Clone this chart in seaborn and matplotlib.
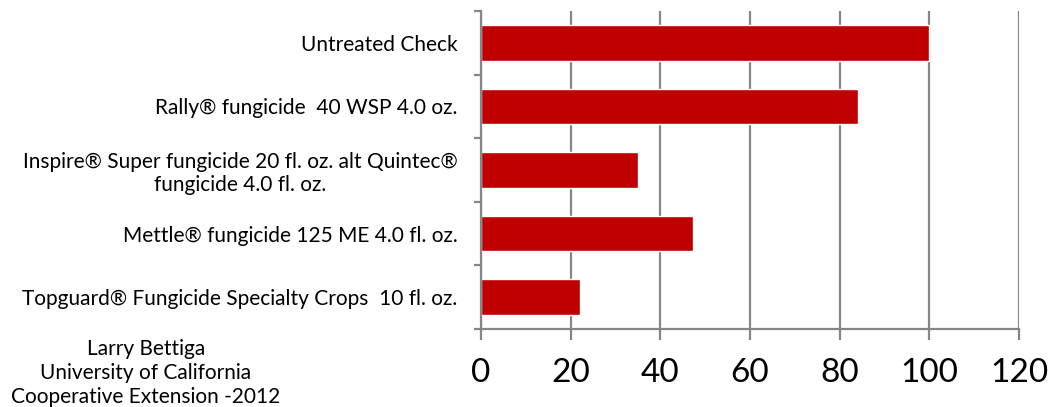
import matplotlib
matplotlib.use("Agg")
import matplotlib.pyplot as plt
import seaborn as sns
import pandas as pd

categories = [
    "Untreated Check",
    "Rally® fungicide  40 WSP 4.0 oz.",
    "Inspire® Super fungicide 20 fl. oz. alt Quintec®\nfungicide 4.0 fl. oz.",
    "Mettle® fungicide 125 ME 4.0 fl. oz.",
    "Topguard® Fungicide Specialty Crops  10 fl. oz.",
]
values = [100, 84, 35, 47.2, 22]
x_ticks = [0, 20, 40, 60, 80, 100, 120]
credit = "Larry Bettiga\nUniversity of California\nCooperative Extension -2012"

sns.set_theme(style="white")
plt.rcParams["font.family"] = ["Lato", "DejaVu Sans"]

df = pd.DataFrame({"treatment": categories, "value": values})

fig = plt.figure(figsize=(10.52, 4.07), dpi=100)
ax = fig.add_axes([481 / 1052, (407 - 329) / 407, (1019 - 481) / 1052, (329 - 11) / 407])

sns.barplot(data=df, x="value", y="treatment", color="#C00000", width=0.56,
            saturation=1, ax=ax, orient="h")

grey = "#868686"
ax.set_xlim(0, 120)
ax.set_ylim(4.5, -0.5)
ax.set_xticks(x_ticks)
ax.set_xticklabels([str(t) for t in x_ticks], fontsize=24, color="black")
ax.xaxis.grid(True, color=grey, linewidth=1.6)
ax.yaxis.grid(False)
ax.set_axisbelow(True)
ax.set_xlabel("")
ax.set_ylabel("")

# y: boundary tick marks (major) and category labels (minor)
ax.set_yticks([i - 0.5 for i in range(len(categories) + 1)])
ax.set_yticklabels([])
ax.set_yticks(list(range(len(categories))), minor=True)
ax.set_yticklabels(categories, minor=True, fontsize=15, color="black")
ax.tick_params(axis="y", which="major", length=5, width=1.6, color=grey, direction="out", left=True)
ax.tick_params(axis="y", which="minor", length=0, pad=17)
ax.tick_params(axis="x", length=8, width=1.6, color=grey, direction="out", bottom=True, pad=13)

for lab in ax.get_yticklabels(minor=True):
    lab.set_multialignment("center")
    lab.set_linespacing(1.2)

for s in ["top", "right"]:
    ax.spines[s].set_visible(False)
for s in ["left", "bottom"]:
    ax.spines[s].set_color(grey)
    ax.spines[s].set_linewidth(1.6)

fig.text(146 / 1052, (407 - 373) / 407, credit, ha="center", va="center",
         multialignment="center", fontsize=15, color="black", linespacing=1.25)

fig.savefig("out.png", dpi=100)
